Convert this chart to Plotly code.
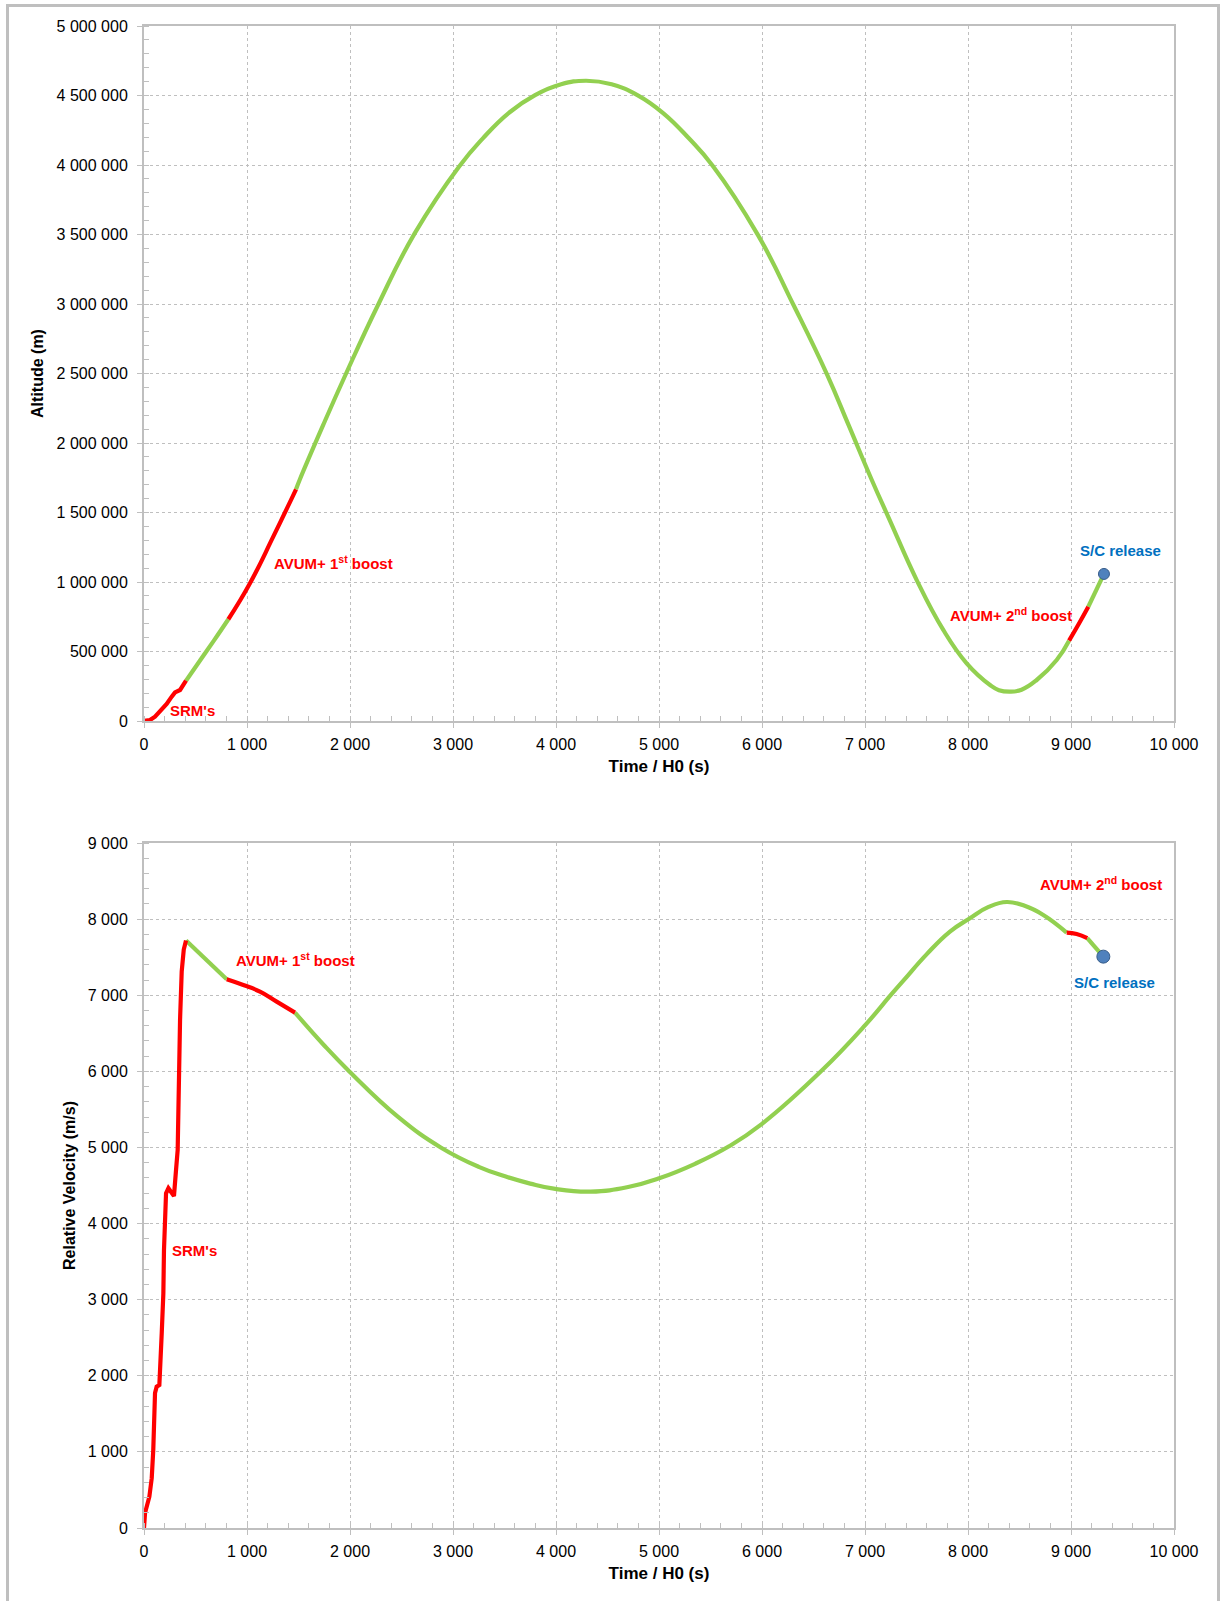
import plotly.graph_objects as go

# ---------------- Altitude (top chart) ----------------
alt_srm_t = [0, 58, 107, 155, 220, 269, 301, 350, 408]
alt_srm_v = [0, 7e3, 31e3, 67e3, 122e3, 175e3, 206e3, 223e3, 290e3]

alt_coast1_t = [408, 544, 680, 819]
alt_coast1_v = [290e3, 435e3, 580e3, 732e3]

alt_boost1_t = [819, 1029, 1255, 1476]
alt_boost1_v = [732e3, 991e3, 1326e3, 1667e3]

alt_coast2_t = [1476, 1511, 1740, 1962, 2272, 2628, 3060, 3290, 3540, 3797, 4050,
                4290, 4540, 4790, 5040, 5290, 5521, 5957, 6306, 6631, 6840, 7066,
                7243, 7502, 7760, 7987, 8214, 8300, 8408, 8520, 8667, 8861, 8981]
alt_coast2_v = [1667e3, 1734e3, 2130e3, 2500e3, 2993e3, 3508e3, 3990e3, 4192e3,
                4374e3, 4503e3, 4581e3, 4606e3, 4581e3, 4503e3, 4374e3, 4192e3,
                3995e3, 3501e3, 2993e3, 2494e3, 2130e3, 1734e3, 1440e3, 1014e3,
                655e3, 415e3, 259e3, 222e3, 211e3, 225e3, 295e3, 439e3, 578e3]

alt_boost2_t = [8981, 9075, 9168]
alt_boost2_v = [578e3, 698e3, 822e3]

alt_coast3_t = [9168, 9320]
alt_coast3_v = [822e3, 1058e3]

alt_release_t = [9320]
alt_release_v = [1058e3]

# ---------------- Relative velocity (bottom chart) ----------------
vel_srm_t = [0, 10, 52, 75, 90, 107, 123, 149, 172, 188, 194, 214, 237, 269, 291,
             311, 327, 350, 366, 386, 408]
vel_srm_v = [0, 197, 411, 655, 1025, 1773, 1857, 1879, 2558, 3084, 3653, 4398,
             4464, 4398, 4362, 4704, 4967, 6675, 7310, 7600, 7718]

vel_coast1_t = [408, 803]
vel_coast1_v = [7718, 7210]

vel_boost1_t = [803, 964, 1126, 1288, 1466]
vel_boost1_v = [7210, 7135, 7048, 6916, 6772]

vel_coast2_t = [1466, 1750, 1996, 2464, 2881, 3250, 3505, 3750, 3993, 4337, 4700,
                5002, 5350, 5680, 6000, 6573, 7004, 7249, 7379, 7600, 7825, 8019,
                8200, 8376, 8550, 8731, 8958]
vel_coast2_v = [6772, 6340, 5996, 5405, 5000, 4745, 4620, 4525, 4455, 4419, 4480,
                4595, 4785, 5015, 5310, 6000, 6610, 7000, 7201, 7540, 7836, 8012,
                8160, 8225, 8175, 8055, 7823]

vel_boost2_t = [8958, 9055, 9158]
vel_boost2_v = [7823, 7805, 7750]

vel_coast3_t = [9158, 9314]
vel_coast3_v = [7750, 7507]

vel_release_t = [9314]
vel_release_v = [7507]

x_title = "Time / H0 (s)"
alt_title = "Altitude (m)"
vel_title = "Relative Velocity (m/s)"

GREEN = "#92D050"
RED = "#FF0000"
BLUE_TXT = "#0070C0"
GRID = "#BFBFBF"
FONT = "Liberation Sans, Arial, sans-serif"

W, H = 1222, 1601

fig = go.Figure()


def seg(t, v, color, xa, ya, spline=True):
    fig.add_trace(go.Scatter(
        x=t, y=v, mode="lines", xaxis=xa, yaxis=ya, showlegend=False,
        line=dict(color=color, width=4.2, shape="spline" if spline else "linear",
                  smoothing=1.3),
        hoverinfo="x+y"))


# top
seg(alt_coast1_t, alt_coast1_v, GREEN, "x", "y")
seg(alt_coast2_t, alt_coast2_v, GREEN, "x", "y")
seg(alt_coast3_t, alt_coast3_v, GREEN, "x", "y")
seg(alt_srm_t, alt_srm_v, RED, "x", "y", spline=False)
seg(alt_boost1_t, alt_boost1_v, RED, "x", "y")
seg(alt_boost2_t, alt_boost2_v, RED, "x", "y")
fig.add_trace(go.Scatter(x=alt_release_t, y=alt_release_v, mode="markers",
                         xaxis="x", yaxis="y", showlegend=False,
                         marker=dict(size=11, color="#4F81BD",
                                     line=dict(color="#385D8A", width=1))))
# bottom
seg(vel_coast1_t, vel_coast1_v, GREEN, "x2", "y2", spline=False)
seg(vel_coast2_t, vel_coast2_v, GREEN, "x2", "y2")
seg(vel_coast3_t, vel_coast3_v, GREEN, "x2", "y2")
seg(vel_srm_t, vel_srm_v, RED, "x2", "y2", spline=False)
seg(vel_boost1_t, vel_boost1_v, RED, "x2", "y2")
seg(vel_boost2_t, vel_boost2_v, RED, "x2", "y2")
fig.add_trace(go.Scatter(x=vel_release_t, y=vel_release_v, mode="markers",
                         xaxis="x2", yaxis="y2", showlegend=False,
                         marker=dict(size=13, color="#4F81BD",
                                     line=dict(color="#385D8A", width=1))))


def px_x(p):
    return p / W


def px_y(p):
    return 1 - p / H


def axis_common(**kw):
    d = dict(
        automargin=False,
        showline=True, linecolor=GRID, linewidth=2, mirror=True,
        showgrid=True, gridcolor=GRID, griddash="dot", gridwidth=1,
        ticks="outside", ticklen=5, tickcolor=GRID, tickwidth=1,
        tickfont=dict(family=FONT, size=16, color="black"),
        zeroline=False, tickformat=",d",
    )
    d.update(kw)
    return d


x_dom = [px_x(144), px_x(1174)]
xt_font = dict(family=FONT, size=17, color="black")
yt_font = dict(family=FONT, size=16, color="black")

fig.update_layout(
    width=W, height=H, margin=dict(l=0, r=0, t=0, b=0, autoexpand=False),
    paper_bgcolor="white", plot_bgcolor="white",
    separators=". ",
    font=dict(family=FONT, color="black"),
    xaxis=axis_common(domain=x_dom, anchor="y", range=[0, 10000], dtick=1000,
                      tick0=0, ticklabelstandoff=3,
                      minor=dict(ticks="inside", ticklen=5, tickcolor=GRID,
                                 dtick=200, showgrid=False),
                      title=dict(text="<b>" + x_title + "</b>", standoff=8,
                                 font=xt_font)),
    yaxis=axis_common(domain=[px_y(721), px_y(26)], anchor="x",
                      range=[0, 5e6], dtick=5e5, tick0=0, ticklabelstandoff=6,
                      minor=dict(ticks="inside", ticklen=5, tickcolor=GRID,
                                 dtick=1e5, showgrid=False),
                      title=dict(text="<b>" + alt_title + "</b>", standoff=9,
                                 font=yt_font)),
    xaxis2=axis_common(domain=x_dom, anchor="y2", range=[0, 10000], dtick=1000,
                       tick0=0, ticklabelstandoff=3,
                       minor=dict(ticks="inside", ticklen=5, tickcolor=GRID,
                                  dtick=200, showgrid=False),
                       title=dict(text="<b>" + x_title + "</b>", standoff=8,
                                  font=xt_font)),
    yaxis2=axis_common(domain=[px_y(1528), px_y(843)], anchor="x2",
                       range=[0, 9000], dtick=1000, tick0=0, ticklabelstandoff=6,
                       minor=dict(ticks="inside", ticklen=5, tickcolor=GRID,
                                  dtick=200, showgrid=False),
                       title=dict(text="<b>" + vel_title + "</b>", standoff=8,
                                  font=yt_font)),
    shapes=[dict(type="rect", xref="paper", yref="paper",
                 x0=px_x(7.5), x1=px_x(1218.5), y0=px_y(1640), y1=px_y(5.5),
                 line=dict(color=GRID, width=3), fillcolor="rgba(0,0,0,0)",
                 layer="below")],
)


def label(text, x, y, xa, ya, color):
    fig.add_annotation(text="<b>" + text + "</b>", x=x, y=y, xref=xa, yref=ya,
                       xanchor="left", yanchor="middle", showarrow=False,
                       font=dict(family=FONT, size=15, color=color))


label("SRM's", 233, 74e3, "x", "y", RED)
label("AVUM+ 1<sup>st</sup> boost", 1243, 1.137e6, "x", "y", RED)
label("AVUM+ 2<sup>nd</sup> boost", 7803, 763e3, "x", "y", RED)
label("S/C release", 9065, 1.225e6, "x", "y", BLUE_TXT)

label("SRM's", 252, 3640, "x2", "y2", RED)
label("AVUM+ 1<sup>st</sup> boost", 877, 7473, "x2", "y2", RED)
label("AVUM+ 2<sup>nd</sup> boost", 8680, 8463, "x2", "y2", RED)
label("S/C release", 9010, 7171, "x2", "y2", BLUE_TXT)

fig.write_html("out.html")
